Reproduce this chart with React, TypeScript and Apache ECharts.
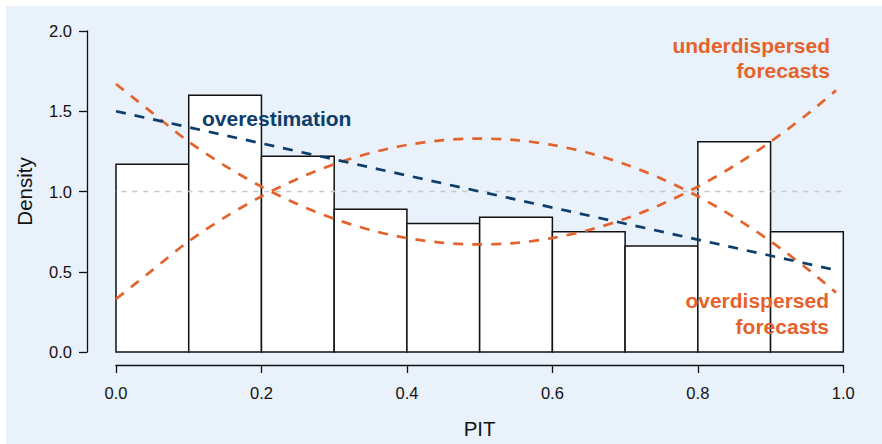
import React, { useEffect, useRef } from "react";
import * as echarts from "echarts";

// ---- data ----
const binEdges = [0, 0.1, 0.2, 0.3, 0.4, 0.5, 0.6, 0.7, 0.8, 0.9, 1.0];
const densities = [1.17, 1.6, 1.22, 0.89, 0.8, 0.84, 0.75, 0.66, 1.31, 0.75];

const curveX = [0, 0.05, 0.1, 0.15, 0.2, 0.25, 0.3, 0.35, 0.4, 0.45, 0.5, 0.55, 0.6, 0.65, 0.7, 0.75, 0.8, 0.85, 0.9, 0.95, 0.99];
const underdispersed = [1.67, 1.49, 1.31, 1.16, 1.03, 0.92, 0.83, 0.76, 0.71, 0.68, 0.67, 0.68, 0.71, 0.76, 0.83, 0.92, 1.03, 1.16, 1.31, 1.48, 1.63];
const overdispersed = [0.33, 0.51, 0.69, 0.84, 0.97, 1.08, 1.17, 1.24, 1.29, 1.32, 1.33, 1.32, 1.29, 1.24, 1.17, 1.08, 0.97, 0.84, 0.69, 0.52, 0.37];

const overestX = [0, 0.99];
const overestY = [1.5, 0.51];

const refX = [-0.038, 1.041];
const refY = [1, 1];

const xTicks = { min: 0, max: 1, interval: 0.2 };
const yTicks = { min: 0, max: 2, interval: 0.5 };

const ORANGE = "#e4632d";
const BLUE = "#0c3d6b";
const FONT = "Liberation Sans";

export default function App() {
  const ref = useRef<HTMLDivElement>(null);

  useEffect(() => {
    if (!ref.current) return;
    const chart = echarts.init(ref.current, undefined, { renderer: "svg" });

    const bars = densities.map((d, i) => [binEdges[i], binEdges[i + 1], d]);
    const zip = (xs: number[], ys: number[]) => xs.map((x, i) => [x, ys[i]]);

    const dashed = (color: string) => ({
      color,
      width: 2.7,
      type: [10, 9] as any,
    });

    const annot = (text: string, x: number, y: number, fill: string, align: string) => ({
      type: "text",
      x,
      y,
      z: 10,
      style: {
        text,
        fill,
        font: `bold 21px "${FONT}"`,
        textAlign: align,
        textVerticalAlign: "middle",
      },
    });

    chart.setOption({
      animation: false,
      backgroundColor: "transparent",
      textStyle: { fontFamily: FONT },
      grid: { left: 116, right: 38.7, top: 31, bottom: 92, containLabel: false },
      xAxis: {
        type: "value",
        min: xTicks.min,
        max: xTicks.max,
        interval: xTicks.interval,
        offset: 13,
        name: "PIT",
        nameLocation: "middle",
        nameGap: 53,
        nameTextStyle: { fontSize: 20.5, color: "#111", fontFamily: FONT },
        axisLine: { show: true, onZero: false, lineStyle: { color: "#111", width: 1.3 } },
        axisTick: { show: true, length: 8, lineStyle: { color: "#111", width: 1.3 } },
        axisLabel: {
          fontSize: 16.5,
          color: "#111",
          margin: 19,
          fontFamily: FONT,
          formatter: (v: number) => v.toFixed(1),
        },
        splitLine: { show: false },
      },
      yAxis: {
        type: "value",
        min: yTicks.min,
        max: yTicks.max,
        interval: yTicks.interval,
        offset: 29,
        name: "Density",
        nameLocation: "middle",
        nameGap: 52,
        nameTextStyle: { fontSize: 20.5, color: "#111", fontFamily: FONT },
        axisLine: { show: true, onZero: false, lineStyle: { color: "#111", width: 1.3 } },
        axisTick: { show: true, length: 8, lineStyle: { color: "#111", width: 1.3 } },
        axisLabel: {
          fontSize: 16.5,
          color: "#111",
          margin: 15,
          fontFamily: FONT,
          formatter: (v: number) => v.toFixed(1),
        },
        splitLine: { show: false },
      },
      series: [
        {
          type: "custom",
          name: "PIT histogram",
          data: bars,
          encode: { x: [0, 1], y: 2 },
          z: 1,
          renderItem: (params: any, api: any) => {
            const x0 = api.value(0);
            const x1 = api.value(1);
            const h = api.value(2);
            const p0 = api.coord([x0, h]);
            const p1 = api.coord([x1, 0]);
            return {
              type: "rect",
              shape: { x: p0[0], y: p0[1], width: p1[0] - p0[0], height: p1[1] - p0[1] },
              style: { fill: "#ffffff", stroke: "#111111", lineWidth: 1.5 },
            };
          },
        },
        {
          type: "line",
          name: "reference",
          data: zip(refX, refY),
          clip: false,
          showSymbol: false,
          symbol: "none",
          z: 3,
          lineStyle: { color: "#c8c8c8", width: 1.6, type: [5, 6] as any },
        },
        {
          type: "line",
          name: "underdispersed",
          data: zip(curveX, underdispersed),
          showSymbol: false,
          symbol: "none",
          smooth: 0.3,
          z: 4,
          lineStyle: dashed(ORANGE),
        },
        {
          type: "line",
          name: "overdispersed",
          data: zip(curveX, overdispersed),
          showSymbol: false,
          symbol: "none",
          smooth: 0.3,
          z: 4,
          lineStyle: dashed(ORANGE),
        },
        {
          type: "line",
          name: "overestimation",
          data: zip(overestX, overestY),
          showSymbol: false,
          symbol: "none",
          z: 5,
          lineStyle: dashed(BLUE),
        },
      ],
      graphic: [
        annot("overestimation", 202, 118, BLUE, "left"),
        annot("underdispersed", 830, 45, ORANGE, "right"),
        annot("forecasts", 830, 70, ORANGE, "right"),
        annot("overdispersed", 829, 300, ORANGE, "right"),
        annot("forecasts", 829, 326, ORANGE, "right"),
      ],
    });

    return () => chart.dispose();
  }, []);

  return (
    <div style={{ position: "fixed", left: 0, top: 0, width: 882, height: 444, background: "#ffffff" }}>
      <div style={{ position: "absolute", left: 6, top: 6, width: 876, height: 438, background: "#e9f1fa" }} />
      <div ref={ref} style={{ position: "absolute", left: 0, top: 0, width: 882, height: 444 }} />
    </div>
  );
}
